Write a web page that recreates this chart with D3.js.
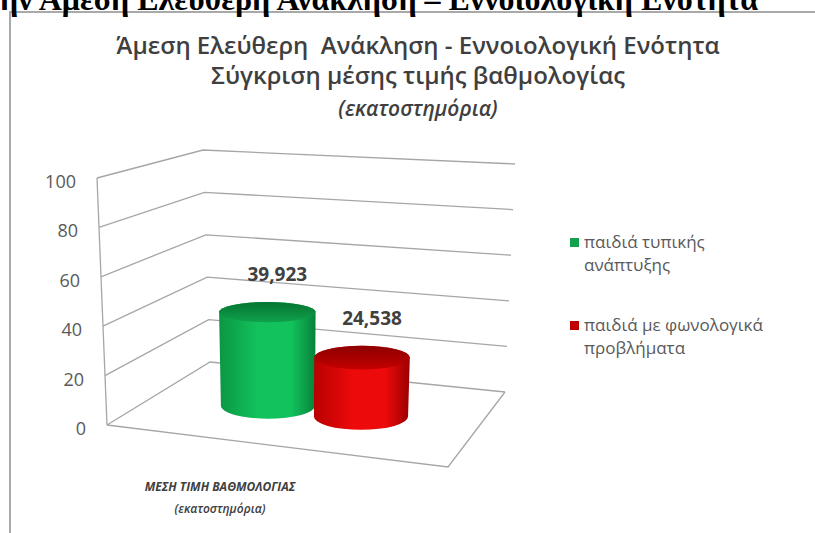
<!DOCTYPE html>
<html>
<head>
<meta charset="utf-8">
<script src="https://cdn.jsdelivr.net/npm/d3@7"></script>
<style>
  html, body { margin: 0; padding: 0; background: #fff; }
  svg { display: block; }
  text { white-space: pre; }
</style>
</head>
<body>
<svg id="chart" width="815" height="533"></svg>
<script>
// ---- data ----
const headerText = "ην Άμεση Ελεύθερη Ανάκληση – Εννοιολογική Ενότητα";
const titleLines = ["Άμεση Ελεύθερη  Ανάκληση - Εννοιολογική Ενότητα", "Σύγκριση μέσης τιμής βαθμολογίας"];
const titleSubLine = "(εκατοστημόρια)";
const categoryLines = ["ΜΕΣΗ ΤΙΜΗ ΒΑΘΜΟΛΟΓΙΑΣ", "(εκατοστημόρια)"];
const seriesNames = ["παιδιά τυπικής ανάπτυξης", "παιδιά με φωνολογικά προβλήματα"];
const seriesValues = [39.923, 24.538];
const legendLines = [["παιδιά τυπικής", "ανάπτυξης"], ["παιδιά με φωνολογικά", "προβλήματα"]];
const valueTicks = [0, 20, 40, 60, 80, 100];

// ---- styling ----
const seriesPalette = [
  { edge: "#0b9644", mid: "#12c25c", rim: "#08823a", capBack: "#067532", capFront: "#0fa04c", key: "#13a150" },
  { edge: "#b80000", mid: "#ec0a0a", rim: "#980000", capBack: "#8c0000", capFront: "#c40000", key: "#c00000" }
];

const svg = d3.select("#chart");
const defs = svg.append("defs");

// Outer frame of the chart object
svg.append("rect")
  .attr("x", 10).attr("y", 12).attr("width", 830).attr("height", 560)
  .attr("fill", "#fff").attr("stroke", "#a9a9a9").attr("stroke-width", 2);

// Document heading line above the chart (runs off the top edge)
svg.append("text")
  .attr("x", 0).attr("y", 10)
  .attr("font-family", "Liberation Serif, serif")
  .attr("font-weight", "bold").attr("font-size", 32)
  .attr("fill", "#000")
  .text(headerText);

// ---- 3D box geometry (screen corners of the plot cube) ----
const box = {
  fl0: [107, 425], fl1: [97, 178],
  fr0: [448, 467], fr1: [461, 204],
  bl0: [210, 362], bl1: [203, 150],
  br0: [505, 392], br1: [515, 164]
};
const lerp = (a, b, t) => [a[0] + (b[0] - a[0]) * t, a[1] + (b[1] - a[1]) * t];

const yScale = d3.scaleLinear().domain([0, 100]).range([0, 1]);
const xScale = d3.scaleBand().domain(seriesNames).range([0.198, 0.783]).padding(0);

// u: across (0..1), v: height fraction (0..1), w: depth (0 front .. 1 back)
function project(u, v, w) {
  const front = lerp(lerp(box.fl0, box.fr0, u), lerp(box.fl1, box.fr1, u), v);
  const back = lerp(lerp(box.bl0, box.br0, u), lerp(box.bl1, box.br1, u), v);
  return lerp(front, back, w);
}

const line = d3.line();
const gridColor = "#a6a6a6";
const walls = svg.append("g").attr("fill", "none").attr("stroke", gridColor).attr("stroke-width", 1.3);

// Gridlines across the left and back walls
valueTicks.forEach(t => {
  const v = yScale(t);
  walls.append("path").attr("d", line([project(0, v, 0), project(0, v, 1), project(1, v, 1)]));
});
// Floor front and right edges
walls.append("path").attr("d", line([project(0, 0, 0), project(1, 0, 0), project(1, 0, 1)]));
// Value axis edge
walls.append("path").attr("d", line([project(0, 0, 0), project(0, 1, 0)]));

// Value axis tick labels
svg.append("g")
  .attr("font-family", "Open Sans, sans-serif").attr("font-size", 18).attr("fill", "#595959")
  .selectAll("text").data(valueTicks).join("text")
  .attr("text-anchor", "end")
  .attr("x", d => project(0, yScale(d), 0)[0] - 21)
  .attr("y", d => project(0, yScale(d), 0)[1] + 10)
  .text(d => d);

// ---- cylinders ----
const radiusU = 0.148, radiusW = 0.19;
function ring(u, v) {
  const c = project(u, v, 0.5);
  const rx = (project(u + radiusU, v, 0.5)[0] - project(u - radiusU, v, 0.5)[0]) / 2;
  const ry = (project(u, v, 0.5 - radiusW)[1] - project(u, v, 0.5 + radiusW)[1]) / 2;
  return { cx: c[0], cy: c[1], rx, ry };
}

const greekNum = d3.formatLocale({ decimal: ",", thousands: ".", grouping: [3], currency: ["", "€"] }).format(".3f");

const bars = svg.append("g");
seriesNames.forEach((name, i) => {
  const pal = seriesPalette[i];
  const u = xScale(name) + xScale.bandwidth() / 2;
  const bot = ring(u, 0);
  const top = ring(u, yScale(seriesValues[i]));

  const bodyGrad = defs.append("linearGradient").attr("id", "body" + i)
    .attr("x1", 0).attr("x2", 1).attr("y1", 0).attr("y2", 0);
  bodyGrad.append("stop").attr("offset", 0).attr("stop-color", pal.edge);
  bodyGrad.append("stop").attr("offset", 0.4).attr("stop-color", pal.mid);
  bodyGrad.append("stop").attr("offset", 0.75).attr("stop-color", pal.mid);
  bodyGrad.append("stop").attr("offset", 1).attr("stop-color", pal.rim);

  const capGrad = defs.append("linearGradient").attr("id", "cap" + i)
    .attr("x1", 0).attr("x2", 0).attr("y1", 0).attr("y2", 1);
  capGrad.append("stop").attr("offset", 0).attr("stop-color", pal.capBack);
  capGrad.append("stop").attr("offset", 1).attr("stop-color", pal.capFront);

  const body = d3.path();
  body.moveTo(top.cx - top.rx, top.cy);
  body.lineTo(bot.cx - bot.rx, bot.cy);
  const bodyD = body.toString() +
    `A${bot.rx},${bot.ry} 0 0 0 ${bot.cx + bot.rx},${bot.cy}` +
    `L${top.cx + top.rx},${top.cy}` +
    `A${top.rx},${top.ry} 0 0 0 ${top.cx - top.rx},${top.cy}Z`;

  bars.append("path").attr("d", bodyD).attr("fill", `url(#body${i})`);
  bars.append("ellipse")
    .attr("cx", top.cx).attr("cy", top.cy).attr("rx", top.rx).attr("ry", top.ry)
    .attr("fill", `url(#cap${i})`);

  // value label above the cylinder
  bars.append("text")
    .attr("x", top.cx + 10).attr("y", top.cy - top.ry - 21)
    .attr("text-anchor", "middle")
    .attr("font-family", "Open Sans, sans-serif").attr("font-weight", "bold")
    .attr("font-size", 19).attr("fill", "#404040")
    .text(greekNum(seriesValues[i]));
});

// ---- titles ----
const titleG = svg.append("g")
  .attr("font-family", "Open Sans, sans-serif").attr("font-weight", 600)
  .attr("fill", "#3f3f3f").attr("text-anchor", "middle");
titleLines.forEach((t, i) => {
  titleG.append("text").attr("x", 418).attr("y", 54 + i * 30).attr("font-size", 24).text(t);
});
titleG.append("text").attr("x", 418).attr("y", 116)
  .attr("font-size", 21).attr("font-style", "italic").text(titleSubLine);

// Category axis title
const catG = svg.append("g")
  .attr("font-family", "Open Sans, sans-serif").attr("font-weight", "bold").attr("font-style", "italic")
  .attr("font-size", 12).attr("fill", "#404040").attr("text-anchor", "middle");
categoryLines.forEach((t, i) => {
  catG.append("text").attr("x", 220).attr("y", 491 + i * 22)
    .attr("font-weight", i === 0 ? "bold" : "600").text(t);
});

// ---- legend ----
const legend = svg.append("g")
  .attr("font-family", "Open Sans, sans-serif").attr("font-size", 17).attr("fill", "#595959");
seriesNames.forEach((name, i) => {
  const gy = 242 + i * 83;
  legend.append("rect").attr("x", 570).attr("y", gy - 4).attr("width", 9).attr("height", 9)
    .attr("fill", seriesPalette[i].key);
  legendLines[i].forEach((t, j) => {
    legend.append("text").attr("x", 584).attr("y", gy + 6 + j * 23).text(t);
  });
});
</script>
</body>
</html>
